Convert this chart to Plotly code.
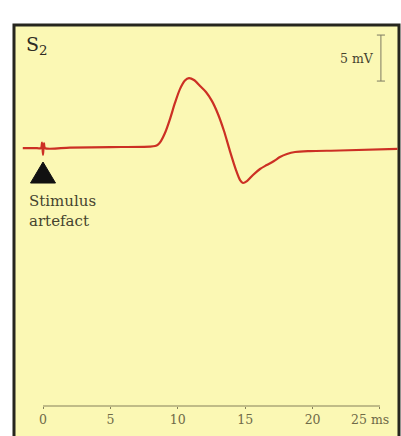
import plotly.graph_objects as go

# Compound action potential recorded at S2 (time in ms, amplitude in mV)
time_ms = [-1.5, -0.6, -0.15, -0.07, 0.0, 0.07, 0.15, 2.0, 5.0, 7.94, 8.31, 8.53, 8.75,
           9.05, 9.42, 9.79, 10.16, 10.53, 10.83, 11.2, 11.65, 12.09, 12.54, 12.98,
           13.43, 13.87, 14.32, 14.62, 14.84, 15.13, 15.58, 16.1, 16.6, 17.14, 17.58,
           18.1, 18.7, 19.8, 22.0, 26.3]
amp_mv = [0.0, 0.0, 0.0, 0.6, -0.75, 0.5, 0.0, 0.05, 0.1, 0.16, 0.22, 0.38, 0.76,
          1.63, 3.15, 4.9, 6.4, 7.34, 7.6, 7.39, 6.74, 6.09, 5.1, 3.7,
          1.85, -0.33, -2.4, -3.48, -3.8, -3.6, -2.93, -2.28, -1.85, -1.41, -0.98,
          -0.65, -0.43, -0.33, -0.27, -0.1]

stim_time = 0.0
tick_vals = [0, 5, 10, 15, 20]
tick_text = ["0", "5", "10", "15", "20"]
axis_end = 25
scale_mv = 5.0
scale_t = 25.07
scale_base = 7.28

ink = "#6f6a48"
bg = "#fbf8b4"
serif = "DejaVu Serif"

fig = go.Figure()

# Recording trace
fig.add_trace(go.Scatter(
    x=time_ms, y=amp_mv, mode="lines",
    line=dict(color="#cc3024", width=2.2, shape="spline", smoothing=0.8),
    hoverinfo="skip", showlegend=False))

# 5 mV calibration bar
fig.add_trace(go.Scatter(
    x=[scale_t - 0.3, scale_t + 0.3, None, scale_t, scale_t, None, scale_t - 0.3, scale_t + 0.3],
    y=[scale_base, scale_base, None, scale_base, scale_base + scale_mv, None,
       scale_base + scale_mv, scale_base + scale_mv],
    mode="lines", line=dict(color="#7d7a62", width=1),
    hoverinfo="skip", showlegend=False))

shapes = [
    # panel background and frame
    dict(type="rect", xref="paper", yref="paper", x0=0.0349, x1=0.995, y0=-0.02, y1=0.9427,
         fillcolor=bg, line=dict(color="#26261e", width=3), layer="below"),
    # time axis line
    dict(type="line", xref="x", yref="paper", x0=tick_vals[0], x1=axis_end,
         y0=0.0688, y1=0.0688, line=dict(color="#85805a", width=1)),
    # stimulus marker
    dict(type="path", xref="x", yref="y", xsizemode="pixel", ysizemode="pixel",
         xanchor=stim_time, yanchor=0,
         path="M-12.5,-35 L12.5,-35 L0,-14 Z",
         fillcolor="#111111", line=dict(color="#111111", width=1)),
]

annotations = [
    dict(text="S<sub>2</sub>", xref="paper", yref="paper", x=24 / 401, y=1 - 45 / 436,
         xanchor="left", yanchor="middle", showarrow=False,
         font=dict(family=serif, size=19, color="#2e2c24")),
    dict(text="5 mV", xref="x", yref="y", x=scale_t - 0.33, y=scale_base + scale_mv / 2,
         xanchor="right", yanchor="middle", showarrow=False,
         font=dict(family=serif, size=12.5, color="#45432f")),
    dict(text="Stimulus<br>artefact", xref="paper", yref="paper", x=27 / 401, y=1 - 211 / 436,
         xanchor="left", yanchor="middle", align="left", showarrow=False,
         font=dict(family=serif, size=15, color="#45432f")),
    dict(text="25 ms", xref="x", yref="paper", x=25.85, y=1 - 419 / 436,
         xanchor="right", yanchor="middle", showarrow=False,
         font=dict(family=serif, size=12.5, color=ink)),
]

fig.update_layout(
    width=401, height=436,
    margin=dict(l=0, r=0, t=0, b=0),
    paper_bgcolor="white", plot_bgcolor="rgba(0,0,0,0)",
    shapes=shapes, annotations=annotations,
    xaxis=dict(range=[-3.19, 26.56], anchor="free", position=0.0688,
               showgrid=False, zeroline=False, showline=False,
               tickmode="array", tickvals=tick_vals, ticktext=tick_text,
               ticks="outside", ticklen=2, tickcolor="#85805a",
               tickfont=dict(family=serif, size=12.5, color=ink),
               minor=dict(tickmode="array", tickvals=[axis_end], ticks="outside",
                          ticklen=2, tickcolor="#85805a", showgrid=False)),
    yaxis=dict(range=[-31.3, 16.09], visible=False, domain=[0, 1]),
)

fig.write_html("out.html")
